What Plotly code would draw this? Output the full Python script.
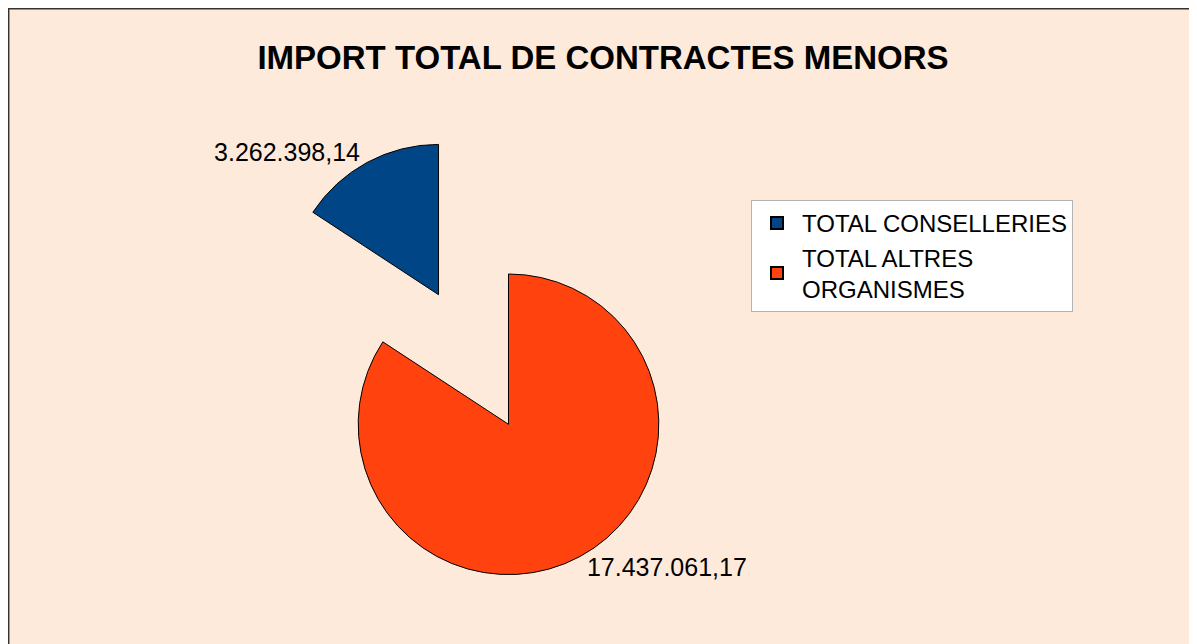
import plotly.graph_objects as go

categories = ["TOTAL CONSELLERIES", "TOTAL ALTRES<br>ORGANISMES"]
values = [3262398.14, 17437061.17]
colors = ["#004586", "#FF420E"]
title_text = "IMPORT TOTAL DE CONTRACTES MENORS"

W, H = 1197, 644
OFF = 8  # page body margin in the browser

# first slice ends at 12 o'clock (it lies to the left of the top)
rot = -360.0 * values[0] / sum(values)

fig = go.Figure(
    go.Pie(
        labels=categories,
        values=values,
        sort=False,
        direction="clockwise",
        rotation=rot,
        pull=[0.49, 0.49],
        marker=dict(colors=colors, line=dict(color="#000000", width=1)),
        textposition="outside",
        texttemplate="%{value:,.2f}",
        textfont=dict(family="Liberation Sans, Arial, sans-serif", size=25, color="#000000"),
        domain=dict(x=[0.2018, 0.5760], y=[0.1064, 0.8020]),
        hoverinfo="label+value",
    )
)

fig.update_layout(
    width=W,
    height=H,
    margin=dict(l=0, r=0, t=0, b=0, autoexpand=False),
    paper_bgcolor="#FEEADB",
    plot_bgcolor="#FEEADB",
    separators=",.",
    font=dict(family="Liberation Sans, Arial, sans-serif", color="#000000"),
    title=dict(
        text="<b>" + title_text + "</b>",
        x=(603 - OFF) / W, xanchor="center",
        y=1 - (57 - OFF) / H, yanchor="middle",
        xref="paper", yref="container",
        font=dict(size=33, family="Liberation Sans, Arial, sans-serif", color="#000000"),
    ),
    legend=dict(
        x=(751 - OFF) / W, xanchor="left",
        y=1 - (200 - OFF) / H, yanchor="top",
        bgcolor="#FFFFFF",
        bordercolor="#B3B3B3",
        borderwidth=1,
        font=dict(size=24, family="Liberation Sans, Arial, sans-serif", color="#000000"),
        itemsizing="constant",
        itemwidth=40,
        entrywidth=310,
    ),
    shapes=[
        dict(type="rect", xref="paper", yref="paper",
             x0=0.7 / W, x1=1.02, y0=-0.02, y1=1 - 0.7 / H,
             line=dict(color="#333333", width=1.5), fillcolor="rgba(0,0,0,0)", layer="above"),
    ],
)

fig.write_html("out.html")
